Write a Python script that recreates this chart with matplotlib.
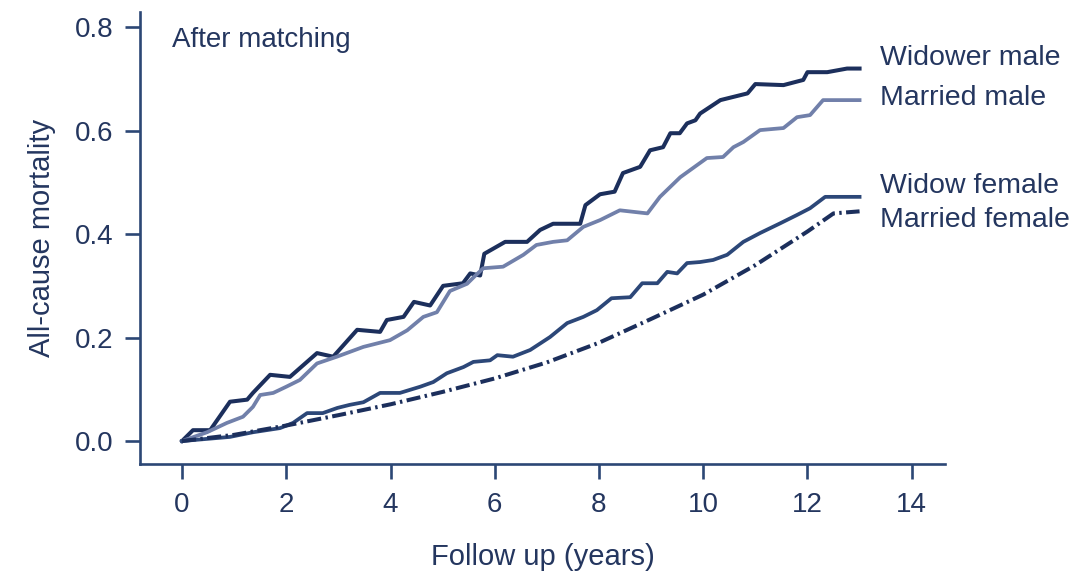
import matplotlib
matplotlib.use('Agg')
import matplotlib.pyplot as plt

plt.rcParams['font.family'] = ['Liberation Sans', 'DejaVu Sans']

# Cumulative all-cause mortality after matching
widower_male_t = [0, 0.21, 0.54, 0.92, 1.25, 1.36, 1.69, 2.07, 2.59, 2.9, 3.36, 3.8, 3.93,
                  4.25, 4.45, 4.76, 5.01, 5.39, 5.53, 5.72, 5.8, 6.2, 6.62, 6.87, 7.12,
                  7.64, 7.74, 8.02, 8.3, 8.46, 8.79, 8.98, 9.23, 9.37, 9.55, 9.69, 9.85,
                  9.94, 10.33, 10.85, 11.0, 11.54, 11.92, 12.0, 12.38, 12.76, 13.0]
widower_male_y = [0, 0.021, 0.021, 0.076, 0.08, 0.093, 0.128, 0.124, 0.17, 0.163, 0.215,
                  0.211, 0.234, 0.24, 0.269, 0.262, 0.30, 0.305, 0.324, 0.32, 0.362, 0.385,
                  0.385, 0.408, 0.42, 0.42, 0.456, 0.477, 0.482, 0.518, 0.53, 0.562, 0.568,
                  0.595, 0.595, 0.614, 0.62, 0.633, 0.659, 0.672, 0.69, 0.688, 0.698,
                  0.713, 0.713, 0.72, 0.72]

married_male_t = [0, 0.48, 0.86, 1.17, 1.36, 1.5, 1.75, 2.0, 2.26, 2.59, 2.97, 3.48, 3.99,
                  4.32, 4.63, 4.89, 5.14, 5.47, 5.6, 5.78, 6.16, 6.55, 6.8, 7.12, 7.39,
                  7.7, 8.02, 8.4, 8.93, 9.17, 9.56, 10.07, 10.38, 10.58, 10.77, 11.09,
                  11.54, 11.8, 12.05, 12.3, 13.0]
married_male_y = [0, 0.017, 0.035, 0.047, 0.066, 0.089, 0.093, 0.105, 0.118, 0.15, 0.163,
                  0.182, 0.195, 0.214, 0.24, 0.249, 0.29, 0.304, 0.317, 0.334, 0.337, 0.36,
                  0.379, 0.385, 0.388, 0.414, 0.427, 0.446, 0.44, 0.472, 0.51, 0.547, 0.549,
                  0.568, 0.578, 0.601, 0.605, 0.626, 0.63, 0.659, 0.659]

widow_female_t = [0, 0.92, 1.36, 1.88, 2.13, 2.4, 2.7, 2.98, 3.22, 3.48, 3.8, 4.18, 4.57,
                  4.82, 5.08, 5.4, 5.59, 5.91, 6.05, 6.35, 6.68, 7.06, 7.39, 7.7, 7.96,
                  8.24, 8.6, 8.83, 9.12, 9.31, 9.5, 9.69, 9.94, 10.19, 10.46, 10.77,
                  11.09, 11.48, 11.8, 12.05, 12.34, 13.0]
widow_female_y = [0, 0.008, 0.017, 0.025, 0.035, 0.054, 0.054, 0.064, 0.07, 0.075, 0.093,
                  0.093, 0.105, 0.114, 0.131, 0.143, 0.153, 0.156, 0.166, 0.163, 0.176,
                  0.201, 0.228, 0.24, 0.253, 0.276, 0.278, 0.305, 0.305, 0.327, 0.324,
                  0.344, 0.346, 0.35, 0.36, 0.385, 0.402, 0.421, 0.437, 0.45, 0.472, 0.472]

married_female_t = [0, 1, 2, 3, 4, 5, 6, 7, 8, 9, 10, 11, 12, 12.5, 13.0]
married_female_y = [0, 0.012, 0.03, 0.05, 0.071, 0.095, 0.121, 0.152, 0.19, 0.236, 0.283,
                    0.34, 0.405, 0.44, 0.444]

group_labels = ['Widower male', 'Married male', 'Widow female', 'Married female']
label_y = [0.74, 0.663, 0.493, 0.427]

navy = '#1c2f5c'
text_col = '#24365f'
axis_col = '#2c4775'

fig = plt.figure(figsize=(10.88, 5.79), dpi=100)
ax = fig.add_axes([0.1287, 0.1986, 0.7399, 0.7804])

ax.plot(widower_male_t, widower_male_y, color=navy, lw=2.9, solid_joinstyle='round')
ax.plot(married_male_t, married_male_y, color='#7180aa', lw=2.7, solid_joinstyle='round')
ax.plot(widow_female_t, widow_female_y, color='#2c4778', lw=2.7, solid_joinstyle='round')
ax.plot(married_female_t, married_female_y, color=navy, lw=2.9,
        linestyle=(0, (3.5, 1.1, 0.6, 1.1)))

for lab, yy in zip(group_labels, label_y):
    ax.text(13.4, yy, lab, fontsize=20.5, color=text_col, va='center', ha='left',
            clip_on=False)

ax.text(-0.19, 0.775, 'After matching', fontsize=20, color=text_col, va='center')

ax.set_xlim(-0.806, 14.64)
ax.set_ylim(-0.0444, 0.829)
ax.set_xticks([0, 2, 4, 6, 8, 10, 12, 14])
ax.set_yticks([0.0, 0.2, 0.4, 0.6, 0.8])
ax.set_yticklabels(['0.0', '0.2', '0.4', '0.6', '0.8'])

for side in ['top', 'right']:
    ax.spines[side].set_visible(False)
for side in ['left', 'bottom']:
    ax.spines[side].set_color(axis_col)
    ax.spines[side].set_linewidth(1.9)

ax.tick_params(axis='both', direction='out', length=11, width=1.9, color=axis_col,
               labelsize=20, labelcolor=text_col)
ax.tick_params(axis='y', pad=8)
ax.tick_params(axis='x', pad=9)

ax.set_xlabel('Follow up (years)', fontsize=21, color=text_col, labelpad=18)
ax.set_ylabel('All-cause mortality', fontsize=21, color=text_col, labelpad=14)

plt.savefig('out.png', dpi=100)
